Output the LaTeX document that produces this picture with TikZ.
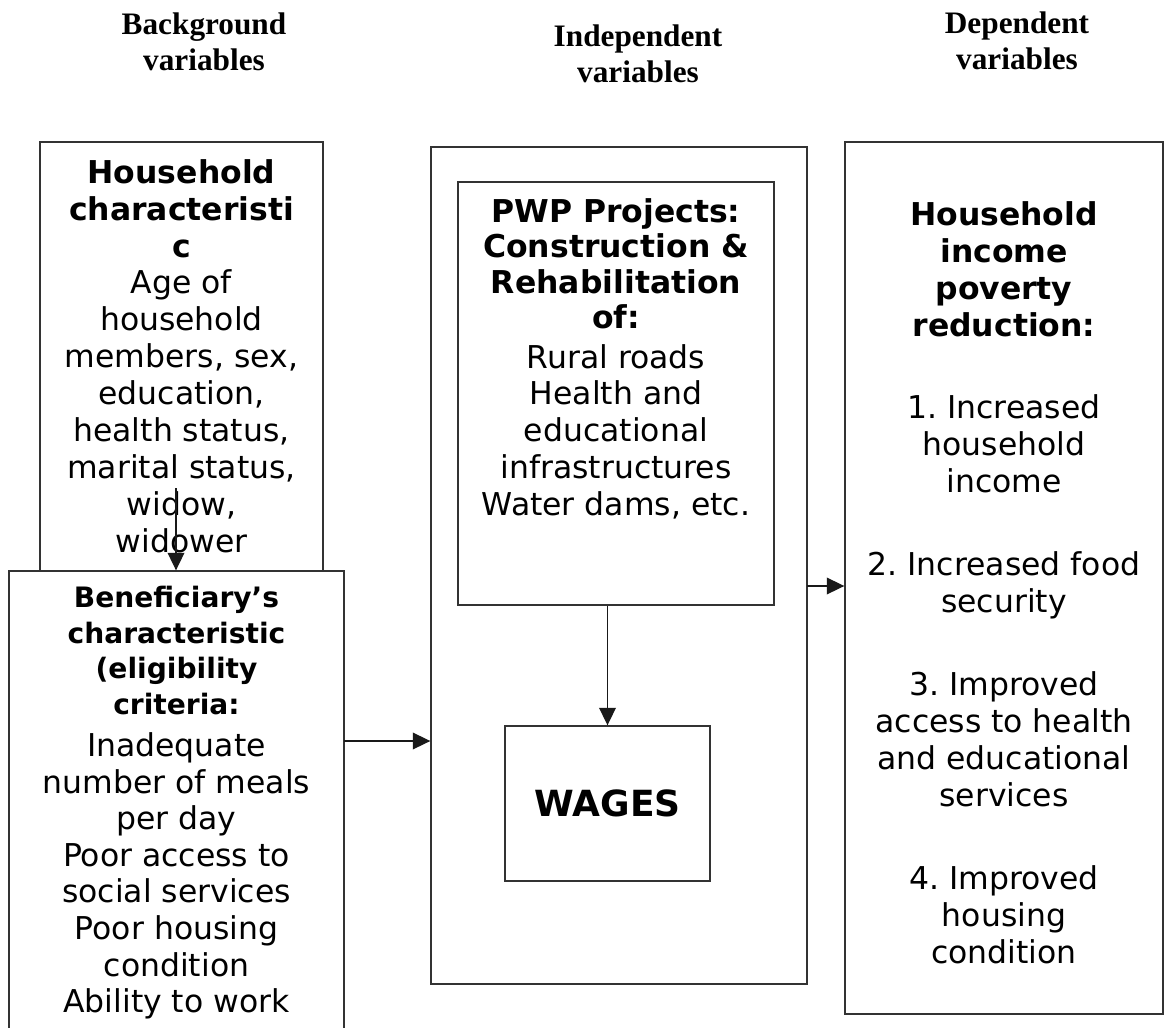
\documentclass[tikz,border=0pt]{standalone}
\usepackage{fontspec}
\setmainfont{DejaVu Sans}
\newfontfamily\headfont{Liberation Serif}
\usetikzlibrary{arrows.meta,positioning}

\tikzset{
  box/.style={draw=black!80, line width=0.8pt, inner sep=0pt},
  txt/.style={align=center, inner sep=0pt, anchor=north, font=\fontsize{17.9}{21}\selectfont},
  head/.style={align=center, inner sep=0pt, anchor=north, font=\headfont\bfseries\fontsize{17.8}{21}\selectfont},
  arr/.style={draw=black!90, line width=0.8pt, -{Triangle[length=10pt,width=9.5pt]}}
}
\frenchspacing

\begin{document}
\begin{tikzpicture}[x=0.02cm, y=-0.02cm]
\useasboundingbox (0,0) rectangle (1164,1028);

% column headings
\node[head] (hback) at (204,12) {Background\\variables};
\node[head] (hindep) at (638,24) {Independent\\variables};
\node[head] (hdep) at (1017,11) {Dependent\\variables};

% boxes
\node[box, minimum width=5.66cm, minimum height=8.58cm] (hh) at (181.5,356.5) {};
\node[box, minimum width=6.7cm, minimum height=10cm] (ben) at (176.5,821) {};
\node[box, minimum width=7.52cm, minimum height=16.74cm] (mid) at (619,565.5) {};
\node[box, minimum width=6.32cm, minimum height=8.46cm] (pwp) at (616,393.5) {};
\node[box, minimum width=4.1cm, minimum height=3.1cm,
      font=\bfseries\fontsize{20.5}{24}\selectfont] (wages) at (607.5,803.5) {WAGES};
\node[box, minimum width=6.36cm, minimum height=17.44cm] (dep) at (1004,578) {};

% box texts
\node[txt] (hhtxt) at (181.5,159) {\textbf{Household}\\\textbf{characteristi}\\\textbf{c}\\Age of\\household\\members, sex,\\education,\\health status,\\marital status,\\widow,\\widower};
\node[txt, font=\bfseries\fontsize{16}{20.2}\selectfont] (bentitle) at (176.5,586) {Beneficiary’s\\characteristic\\(eligibility\\criteria:};
\node[txt, font=\fontsize{17.9}{20.8}\selectfont] (bentxt) at (176.5,732.5) {Inadequate\\number of meals\\per day\\Poor access to\\social services\\Poor housing\\condition\\Ability to work};
\node[txt, font=\bfseries\fontsize{17.9}{20.2}\selectfont] (pwptitle) at (616,198) {PWP Projects:\\Construction \&\\Rehabilitation\\of:};
\node[txt, font=\fontsize{17.9}{20.9}\selectfont] (pwptxt) at (616,344) {Rural roads\\Health and\\educational\\infrastructures\\Water dams, etc.};
\node[txt, font=\bfseries\fontsize{17.9}{21.2}\selectfont] (deptitle) at (1004,201) {Household\\income\\poverty\\reduction:};
\node[txt] (deptxt) at (1004,394) {1. Increased\\household\\income\\[26.5pt]2. Increased food\\security\\[26.5pt]3. Improved\\access to health\\and educational\\services\\[26.5pt]4. Improved\\housing\\condition};

% links
\coordinate (hhsrc) at (176,488);
\coordinate (benout) at (344,741);
\coordinate (midout) at (807,586);
\draw[arr] (hhsrc) -- (hhsrc |- ben.north);
\draw[arr] (benout) -- (benout -| mid.west);
\draw[arr] (midout) -- (midout -| dep.west);
\draw[arr] (pwp.south -| wages.north) -- (wages.north);
\end{tikzpicture}
\end{document}
